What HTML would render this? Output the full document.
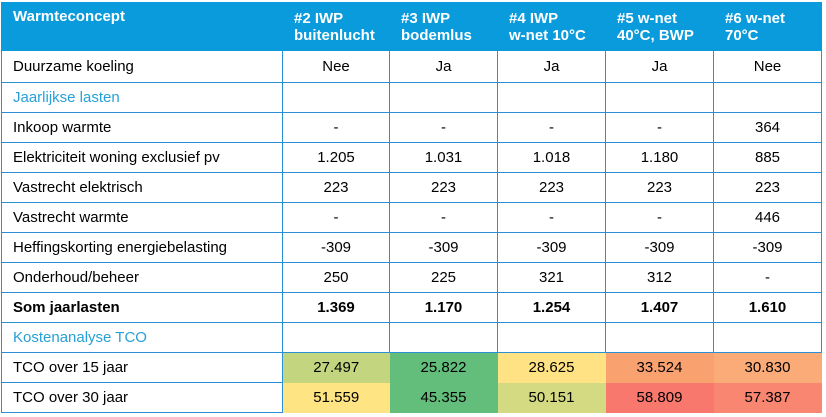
<!DOCTYPE html>
<html><head><meta charset="utf-8"><style>
body{margin:0;width:826px;height:417px;background:#fff;overflow:hidden;font-family:"Liberation Sans",sans-serif;}
table{position:absolute;left:1px;top:2px;border-collapse:collapse;table-layout:fixed;font-size:15px;color:#000;}
td{border:1px solid #2b8fd6;padding:0;height:29px;text-align:center;white-space:nowrap;}
td.l{text-align:left;padding-left:11px;}
tr.h td{background:#0a9bdc;color:#fff;font-weight:bold;height:47px;text-align:left;padding-left:11px;line-height:17px;border-color:#0a9bdc;}
tr.h td:first-child{vertical-align:top;padding-top:5px;height:42px}
.sec{color:#27a0d8;}
.b{font-weight:bold;}
tr.c td.v{border:none;}
</style></head><body>
<table>
<colgroup><col style="width:281px"><col style="width:107px"><col style="width:108px"><col style="width:108px"><col style="width:108px"><col style="width:108px"></colgroup>
<tr class="h"><td>Warmteconcept</td><td>#2 IWP<br>buitenlucht</td><td>#3 IWP<br>bodemlus</td><td>#4 IWP<br>w-net 10°C</td><td>#5 w-net<br>40°C, BWP</td><td>#6 w-net<br>70°C</td></tr>
<tr style="height:32px"><td class="l">Duurzame koeling</td><td>Nee</td><td>Ja</td><td>Ja</td><td>Ja</td><td>Nee</td></tr>
<tr><td class="l sec">Jaarlijkse lasten</td><td></td><td></td><td></td><td></td><td></td></tr>
<tr><td class="l">Inkoop warmte</td><td>-</td><td>-</td><td>-</td><td>-</td><td>364</td></tr>
<tr><td class="l">Elektriciteit woning exclusief pv</td><td>1.205</td><td>1.031</td><td>1.018</td><td>1.180</td><td>885</td></tr>
<tr><td class="l">Vastrecht elektrisch</td><td>223</td><td>223</td><td>223</td><td>223</td><td>223</td></tr>
<tr><td class="l">Vastrecht warmte</td><td>-</td><td>-</td><td>-</td><td>-</td><td>446</td></tr>
<tr><td class="l">Heffingskorting energiebelasting</td><td>-309</td><td>-309</td><td>-309</td><td>-309</td><td>-309</td></tr>
<tr><td class="l">Onderhoud/beheer</td><td>250</td><td>225</td><td>321</td><td>312</td><td>-</td></tr>
<tr class="b"><td class="l">Som jaarlasten</td><td>1.369</td><td>1.170</td><td>1.254</td><td>1.407</td><td>1.610</td></tr>
<tr><td class="l sec">Kostenanalyse TCO</td><td></td><td></td><td></td><td></td><td></td></tr>
<tr class="c"><td class="l">TCO over 15 jaar</td><td class="v" style="background:#c3d57e">27.497</td><td class="v" style="background:#63be7b">25.822</td><td class="v" style="background:#fee283">28.625</td><td class="v" style="background:#f9a26f">33.524</td><td class="v" style="background:#fbab77">30.830</td></tr>
<tr class="c"><td class="l">TCO over 30 jaar</td><td class="v" style="background:#ffe484">51.559</td><td class="v" style="background:#63be7b">45.355</td><td class="v" style="background:#d4da81">50.151</td><td class="v" style="background:#f8786d">58.809</td><td class="v" style="background:#f98670">57.387</td></tr>
</table>
</body></html>
